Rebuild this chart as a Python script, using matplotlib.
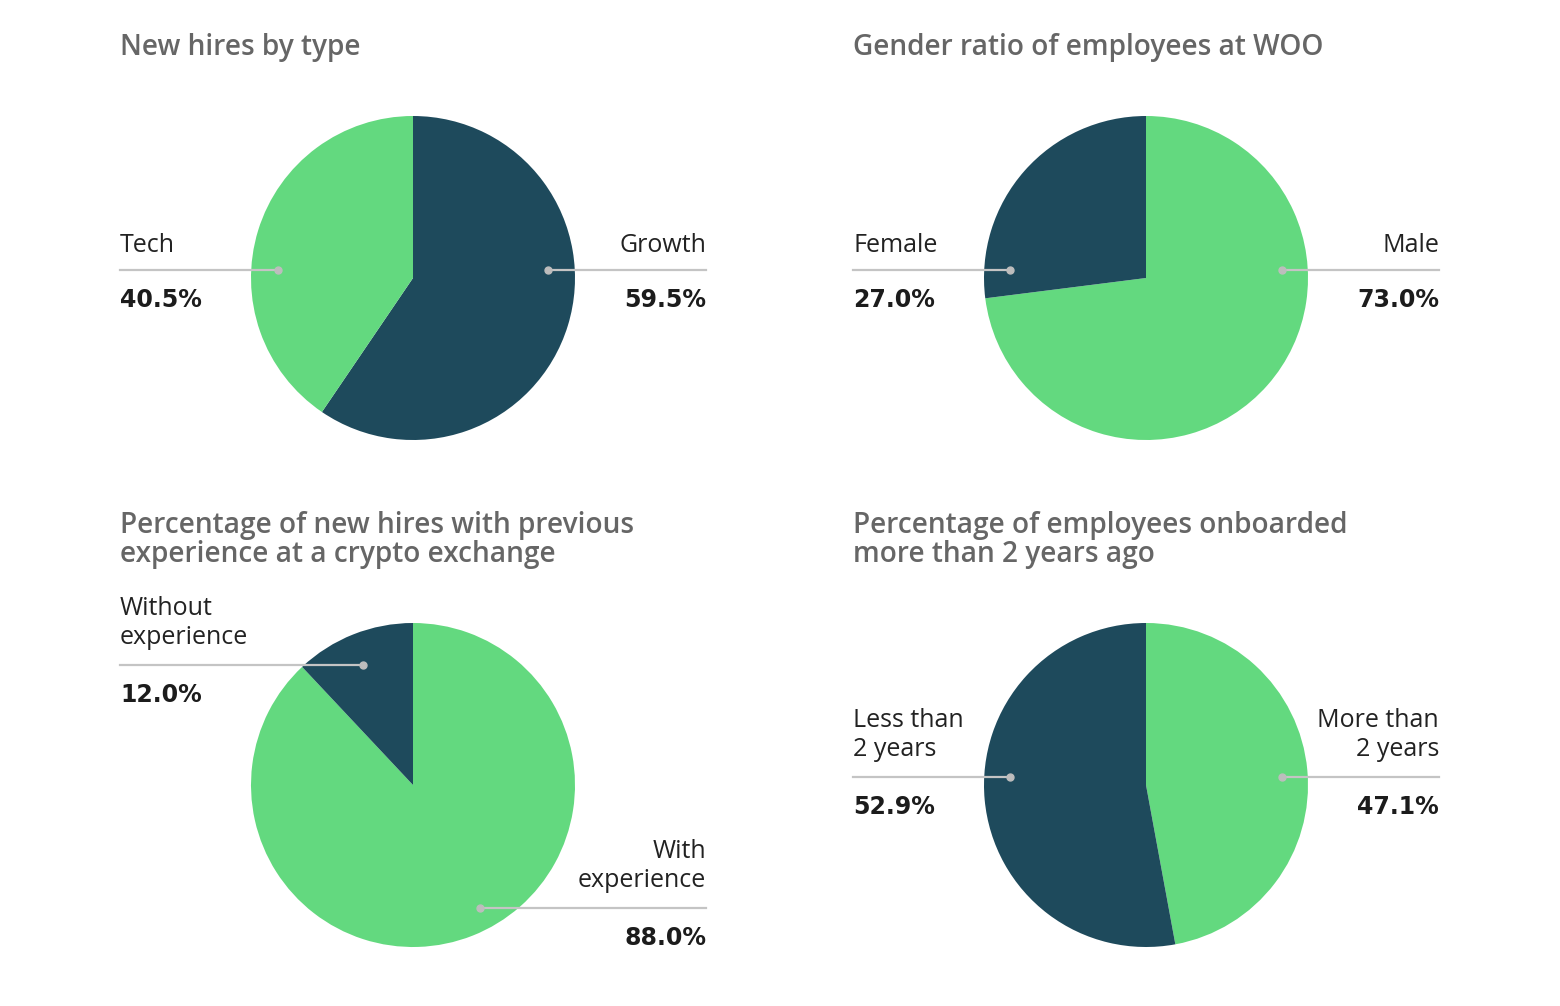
import numpy as np
import matplotlib.pyplot as plt

# data
titles = ["New hires by type",
          "Gender ratio of employees at WOO",
          "Percentage of new hires with previous\nexperience at a crypto exchange",
          "Percentage of employees onboarded\nmore than 2 years ago"]
# first slice starts at 12 o'clock, clockwise
slice_labels = [["Growth", "Tech"],
                ["Male", "Female"],
                ["With\nexperience", "Without\nexperience"],
                ["More than\n2 years", "Less than\n2 years"]]
slice_values = [[59.5, 40.5],
                [73.0, 27.0],
                [88.0, 12.0],
                [47.1, 52.9]]

DARK = "#1e4a5c"
GREEN = "#63d97f"
slice_colors = [[DARK, GREEN], [GREEN, DARK], [GREEN, DARK], [GREEN, DARK]]

W, H = 1560, 1006
plt.rcParams['font.family'] = ['Open Sans', 'DejaVu Sans']

fig = plt.figure(figsize=(W / 100, H / 100), dpi=100)
bg = fig.add_axes([0, 0, 1, 1])
bg.set_xlim(0, W)
bg.set_ylim(H, 0)
bg.axis('off')

centers = [(413, 278), (1146, 278), (413, 785), (1146, 785)]
R = 162
left_x = [120, 853, 120, 853]
right_x = [706, 1439, 706, 1439]
title_y = [47, 47, 540, 540]
# (label center y, line y, dot x, pct y) for right label and left label
right_lab = [(245, 270, 548, 300), (245, 270, 1282, 300), (866, 908, 480, 938), (735, 777, 1282, 807)]
left_lab = [(245, 270, 278, 300), (245, 270, 1010, 300), (623, 665, 363, 695), (735, 777, 1010, 807)]

for i in range(4):
    cx, cy = centers[i]
    ax = fig.add_axes([(cx - R) / W, 1 - (cy + R) / H, 2 * R / W, 2 * R / H])
    ax.pie(slice_values[i], colors=slice_colors[i], startangle=90, counterclock=False,
           radius=1, wedgeprops=dict(linewidth=0))
    ax.set_xlim(-1, 1)
    ax.set_ylim(-1, 1)
    ax.set_aspect('equal')
    ax.set_zorder(1)

    bg.text(left_x[i], title_y[i], titles[i], fontsize=20.2, fontweight='semibold',
            color='#666666', ha='left', va='center', linespacing=1.02)

    for side, lab in ((0, right_lab[i]), (1, left_lab[i])):
        ly, liney, dotx, py = lab
        if side == 0:
            x0, x1, ha, tx = dotx, right_x[i], 'right', right_x[i]
        else:
            x0, x1, ha, tx = left_x[i], dotx, 'left', left_x[i]
        bg.text(tx, ly, slice_labels[i][side], fontsize=18, color='#222222',
                ha=ha, va='center', linespacing=1.2)
        bg.text(tx, py, f"{slice_values[i][side]:.1f}%", fontsize=17, fontweight='bold',
                family='DejaVu Sans', color='#1c1c1c', ha=ha, va='center')
        # leader line + dot, drawn over the pie
        fig.lines.append(plt.Line2D([x0 / W, x1 / W], [1 - liney / H, 1 - liney / H],
                                    transform=fig.transFigure, color='#c4c4c4', lw=1.6,
                                    zorder=5))
        fig.lines.append(plt.Line2D([dotx / W], [1 - liney / H], transform=fig.transFigure,
                                    marker='o', markersize=5, color='#bdbdbd', lw=0,
                                    zorder=6))

fig.savefig("out.png", dpi=100, facecolor='white')
